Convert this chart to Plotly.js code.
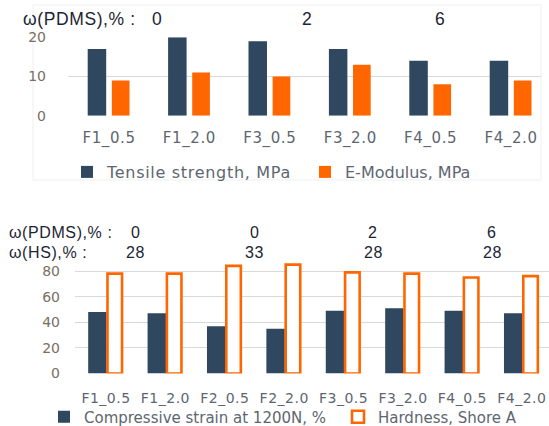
<!DOCTYPE html>
<html>
<head>
<meta charset="utf-8">
<script src="https://cdn.plot.ly/plotly-3.0.1.min.js"></script>
<style>
  html, body { margin: 0; padding: 0; background: #ffffff; }
  #chart { width: 549px; height: 426px; }
  .xtick text { letter-spacing: 0.6px; }
  .x2tick text { letter-spacing: 0.5px; }
  .legendtext { letter-spacing: 0.7px; }
  .annotation-text { letter-spacing: 0.6px; }
</style>
</head>
<body>
<div id="chart"></div>
<script>
// ---- data ----
var topCategories = ['F1_0.5', 'F1_2.0', 'F3_0.5', 'F3_2.0', 'F4_0.5', 'F4_2.0'];
var tensileStrength = [17, 20, 19, 17, 14, 14];
var eModulus = [9, 11, 10, 13, 8, 9];
var topTicks = [0, 10, 20];
var topPdmsLabels = ['0', '2', '6'];

var bottomCategories = ['F1_0.5', 'F1_2.0', 'F2_0.5', 'F2_2.0', 'F3_0.5', 'F3_2.0', 'F4_0.5', 'F4_2.0'];
var compressiveStrain = [48, 47, 37, 35, 49, 51, 49, 47];
var hardness = [78, 78, 84, 85, 79, 78, 75, 76];
var bottomTicks = [0, 20, 40, 60, 80];
var bottomPdmsLabels = ['0', '0', '2', '6'];
var bottomHsLabels = ['28', '33', '28', '28'];

// ---- styling ----
var dark = '#2f4860';
var orange = '#ff6600';
var grid = '#d9d9d9';
var tickNumColor = '#7a6e62';
var tickCatColor = '#5d6670';
var annColor = '#1c2533';
var font = 'DejaVu Sans, Verdana, sans-serif';
var annFont = 'Liberation Sans, Arial, sans-serif';

var traces = [
  {
    type: 'bar', x: topCategories, y: tensileStrength, name: 'Tensile strength, MPa',
    xaxis: 'x', yaxis: 'y', legend: 'legend',
    marker: { color: dark }, width: 0.23, offset: -0.265, hoverinfo: 'skip'
  },
  {
    type: 'bar', x: topCategories, y: eModulus, name: 'E-Modulus, MPa',
    xaxis: 'x', yaxis: 'y', legend: 'legend2',
    marker: { color: orange }, width: 0.22, offset: 0.035, hoverinfo: 'skip'
  },
  {
    type: 'bar', x: bottomCategories, y: compressiveStrain, name: 'Compressive strain at 1200N, %',
    xaxis: 'x2', yaxis: 'y2', legend: 'legend3',
    marker: { color: dark }, width: 0.31, offset: -0.30, hoverinfo: 'skip'
  },
  {
    type: 'bar', x: bottomCategories, y: hardness, name: 'Hardness, Shore A',
    xaxis: 'x2', yaxis: 'y2', legend: 'legend4',
    marker: { color: '#ffffff', line: { color: orange, width: 2.6 } },
    width: 0.245, offset: 0.025, hoverinfo: 'skip'
  }
];

var annotations = [];
function ann(text, x, xref, y, xanchor, size) {
  annotations.push({
    text: text, x: x, xref: xref, y: y, yref: 'paper',
    xanchor: xanchor, yanchor: 'middle', showarrow: false, borderpad: 0,
    font: { family: annFont, size: size, color: annColor }
  });
}
// top chart header
var topHeadY = (426 - 19) / 426;
ann('ω(PDMS),% :', 22 / 549, 'paper', topHeadY, 'left', 17.5);
var topPdmsPos = [0.6, 2.46, 4.12];
topPdmsLabels.forEach(function (t, i) { ann(t, topPdmsPos[i], 'x', topHeadY, 'center', 17.5); });
// bottom chart header
var row1Y = (426 - 232) / 426, row2Y = (426 - 252) / 426;
ann('ω(PDMS),% :', 8 / 549, 'paper', row1Y, 'left', 16);
ann('ω(HS),% :', 8 / 549, 'paper', row2Y, 'left', 16);
var bottomPos = [0.5, 2.5, 4.5, 6.5];
bottomPdmsLabels.forEach(function (t, i) { ann(t, bottomPos[i], 'x2', row1Y, 'center', 16); });
bottomHsLabels.forEach(function (t, i) { ann(t, bottomPos[i], 'x2', row2Y, 'center', 16); });

function legendAt(xpx, ypx, size) {
  return {
    orientation: 'h', x: xpx / 549, xanchor: 'left', y: (426 - ypx) / 426, yanchor: 'middle',
    font: { family: font, size: size, color: tickCatColor },
    bgcolor: 'rgba(0,0,0,0)', borderwidth: 0, itemclick: false, itemdoubleclick: false
  };
}

var layout = {
  width: 549, height: 426,
  margin: { l: 0, r: 0, t: 0, b: 0, autoexpand: false },
  paper_bgcolor: '#ffffff', plot_bgcolor: 'rgba(0,0,0,0)',
  barmode: 'overlay',
  showlegend: true,
  xaxis: {
    domain: [68 / 549, 541 / 549], range: [-0.51, 5.373], type: 'category',
    showgrid: false, zeroline: false, showline: false, ticks: '',
    tickfont: { family: font, size: 15, color: tickCatColor },
    ticklabelstandoff: 11, anchor: 'y', fixedrange: true
  },
  yaxis: {
    domain: [0.7284, 0.9125], range: [0, 20], tickvals: topTicks,
    showgrid: true, gridcolor: grid, gridwidth: 1, zeroline: false, showline: false,
    tickfont: { family: font, size: 14, color: tickNumColor },
    ticklabelstandoff: 21, anchor: 'x', fixedrange: true
  },
  xaxis2: {
    domain: [75 / 549, 1], range: [-0.522, 7.458], type: 'category',
    showgrid: false, zeroline: false, showline: false, ticks: '',
    tickfont: { family: font, size: 14, color: tickCatColor },
    ticklabelstandoff: 14, anchor: 'y2', fixedrange: true
  },
  yaxis2: {
    domain: [0.1232, 0.3878], range: [0, 88], tickvals: bottomTicks,
    showgrid: true, gridcolor: grid, gridwidth: 1, zeroline: false, showline: false,
    tickfont: { family: font, size: 14, color: tickNumColor },
    ticklabelstandoff: 14, anchor: 'x2', fixedrange: true
  },
  legend: legendAt(67, 172, 16),
  legend2: legendAt(305, 172, 16),
  legend3: legendAt(44, 417, 15),
  legend4: legendAt(338, 417, 15),
  shapes: [
    { type: 'rect', xref: 'paper', yref: 'paper', x0: 33 / 549, x1: 541 / 549,
      y0: (426 - 180) / 426, y1: (426 - 5) / 426, line: { color: '#efefef', width: 1 }, layer: 'below' }
  ],
  annotations: annotations
};

Plotly.newPlot('chart', traces, layout, { displayModeBar: false, staticPlot: true });
</script>
</body>
</html>
